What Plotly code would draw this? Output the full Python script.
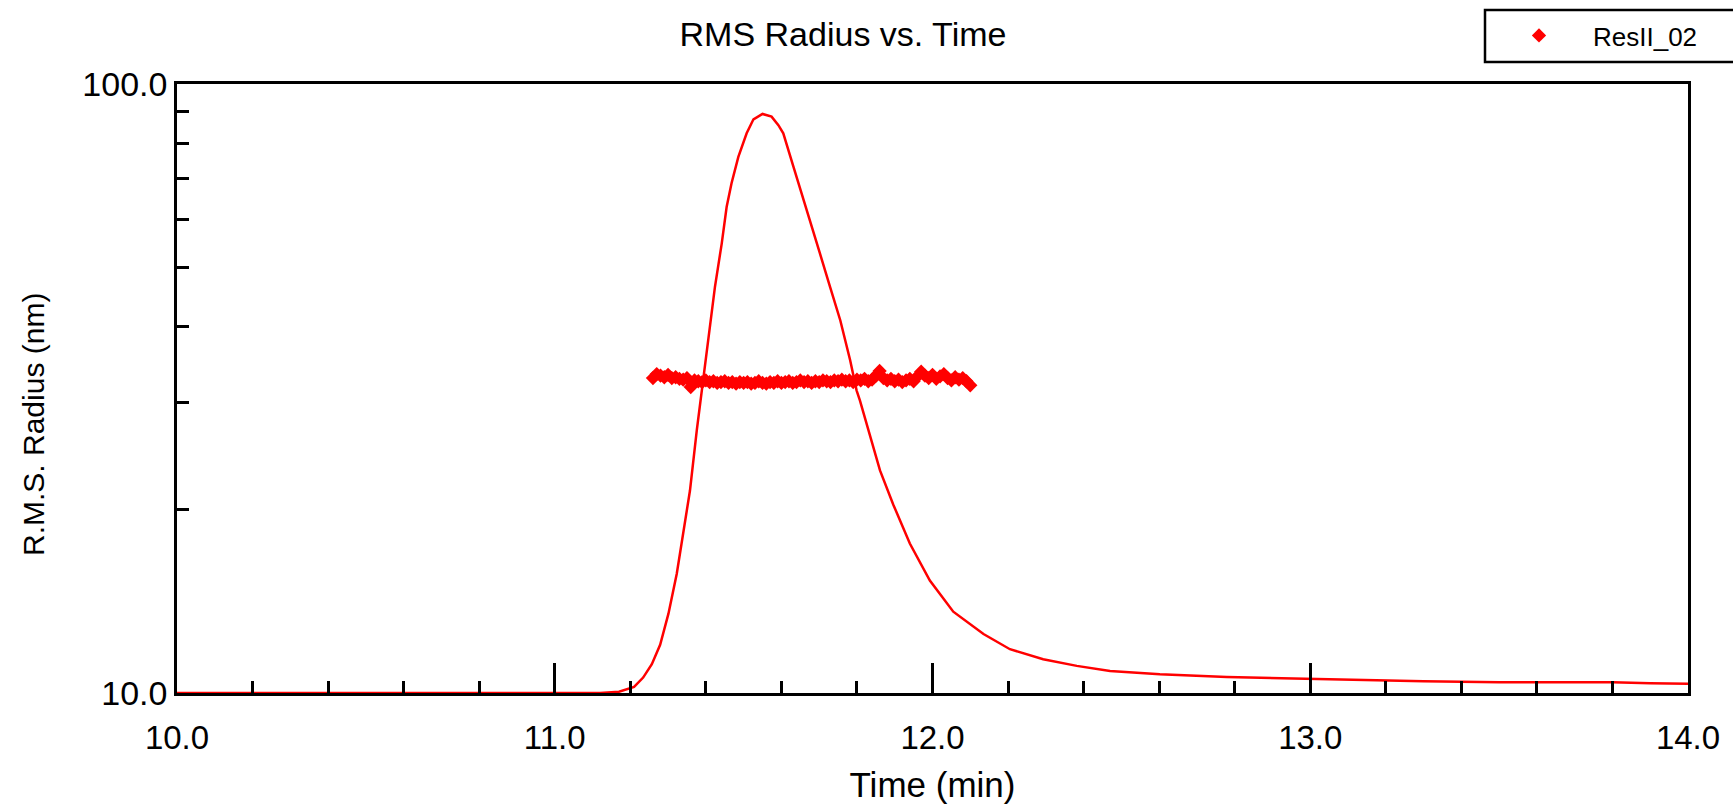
import plotly.graph_objects as go

# Elution trace (min, nm-scaled signal) drawn as a line on the radius axis
trace_time = [10.00, 10.50, 11.00, 11.12, 11.17, 11.21, 11.234, 11.257, 11.279, 11.301,
              11.323, 11.340, 11.358, 11.376, 11.390, 11.407, 11.424, 11.442, 11.455, 11.468,
              11.486, 11.508, 11.526, 11.550, 11.574, 11.592, 11.605, 11.632, 11.654, 11.676,
              11.702, 11.729, 11.756, 11.782, 11.799, 11.808, 11.835, 11.861, 11.896, 11.940,
              11.993, 12.055, 12.135, 12.205, 12.293, 12.382, 12.470, 12.602, 12.779, 12.955,
              13.130, 13.300, 13.500, 13.600, 13.700, 13.800, 13.900, 14.000]
trace_value = [10.00, 10.00, 10.00, 10.00, 10.05, 10.23, 10.60, 11.15, 12.00, 13.50,
               15.70, 18.20, 21.50, 27.00, 31.60, 37.90, 46.40, 54.70, 62.80, 68.70,
               75.90, 83.00, 87.50, 89.30, 88.40, 85.60, 83.00, 73.10, 66.10, 59.80,
               52.70, 46.40, 40.90, 35.20, 31.40, 30.20, 26.30, 23.20, 20.40, 17.60,
               15.30, 13.60, 12.50, 11.80, 11.36, 11.08, 10.87, 10.73, 10.62, 10.56,
               10.49, 10.45, 10.41, 10.41, 10.43, 10.41, 10.38, 10.36]

# RMS radius slices across the peak
rms_time = [11.26, 11.27, 11.28, 11.29, 11.30, 11.31, 11.32, 11.33, 11.34, 11.35,
            11.36, 11.37, 11.38, 11.39, 11.40, 11.41, 11.42, 11.43, 11.44, 11.45,
            11.46, 11.47, 11.48, 11.49, 11.50, 11.51, 11.52, 11.53, 11.54, 11.55,
            11.56, 11.57, 11.58, 11.59, 11.60, 11.61, 11.62, 11.63, 11.64, 11.65,
            11.66, 11.67, 11.68, 11.69, 11.70, 11.71, 11.72, 11.73, 11.74, 11.75,
            11.76, 11.77, 11.78, 11.79, 11.80, 11.81, 11.82, 11.83, 11.84, 11.85,
            11.86, 11.87, 11.88, 11.89, 11.90, 11.91, 11.92, 11.93, 11.94, 11.95,
            11.96, 11.97, 11.98, 11.99, 12.00, 12.01, 12.02, 12.03, 12.04, 12.05,
            12.06, 12.07, 12.08, 12.09, 12.10]
rms_radius = [32.9, 33.4, 33.2, 33.0, 33.3, 32.9, 33.0, 32.8, 32.7, 32.9,
              31.8, 32.6, 32.5, 32.4, 32.6, 32.4, 32.5, 32.3, 32.4, 32.5,
              32.3, 32.4, 32.2, 32.4, 32.3, 32.4, 32.2, 32.3, 32.5, 32.3,
              32.2, 32.4, 32.3, 32.5, 32.3, 32.4, 32.5, 32.3, 32.4, 32.6,
              32.4, 32.5, 32.3, 32.5, 32.4, 32.6, 32.5, 32.4, 32.6, 32.5,
              32.7, 32.5, 32.6, 32.4, 32.7, 32.6, 32.8, 32.5, 32.7, 33.2,
              33.8, 32.9, 32.6, 32.8, 32.5, 32.7, 32.4, 32.6, 32.8, 32.5,
              33.1, 33.7, 33.2, 32.9, 33.3, 32.8, 33.1, 33.4, 32.9, 32.6,
              33.0, 32.7, 32.9, 32.5, 32.0]

x_ticks = [10.0, 11.0, 12.0, 13.0, 14.0]
x_tick_text = ["10.0", "11.0", "12.0", "13.0", "14.0"]
y_ticks = [10, 100]
y_tick_text = ["10.0", "100.0"]
y_minor = [20, 30, 40, 50, 60, 70, 80, 90]

FONT = "Liberation Sans, Arial, sans-serif"
RED = "#ff0000"

fig = go.Figure()
fig.add_trace(go.Scatter(
    x=trace_time, y=trace_value, mode="lines",
    line=dict(color=RED, width=2.5), showlegend=False, hoverinfo="skip",
))
fig.add_trace(go.Scatter(
    x=rms_time, y=rms_radius, mode="markers", name="ResII_02",
    marker=dict(symbol="diamond", size=11, color=RED, line=dict(width=0)),
))

W, H = 1733, 804
L, R, T, B = 177, 45, 84, 111
pw = W - L - R
ph = H - T - B

fig.update_layout(
    width=W, height=H,
    margin=dict(l=L, r=R, t=T, b=B, autoexpand=False),
    paper_bgcolor="white", plot_bgcolor="white",
    font=dict(family=FONT, size=34, color="black"),
    title=dict(text="RMS Radius vs. Time", x=843 / W, xref="container", xanchor="center",
               y=1 - 34 / H, yref="container", yanchor="middle",
               font=dict(family=FONT, size=34, color="black")),
    showlegend=True,
    legend=dict(x=(1485 - L) / pw, xanchor="left", y=(H - B - 12) / ph, yanchor="top",
                itemwidth=98, borderwidth=0, bgcolor="rgba(0,0,0,0)",
                font=dict(family=FONT, size=26, color="black")),
    xaxis=dict(
        range=[10.0, 14.0], tickmode="array", tickvals=x_ticks, ticktext=x_tick_text,
        ticks="inside", ticklen=30, tickwidth=2.5, tickcolor="black",
        ticklabelstandoff=14, automargin=False,
        tickfont=dict(family=FONT, size=33),
        minor=dict(dtick=0.2, tick0=10.0, ticks="inside", ticklen=12, tickwidth=2.5,
                   tickcolor="black", showgrid=False),
        showline=True, linecolor="black", linewidth=2.5, mirror=True,
        showgrid=False, zeroline=False,
        title=dict(text="Time (min)", standoff=19, font=dict(family=FONT, size=35)),
    ),
    yaxis=dict(
        type="log", range=[1, 2], tickmode="array", tickvals=y_ticks, ticktext=y_tick_text,
        ticks="", ticklabelstandoff=0, automargin=False,
        tickfont=dict(family=FONT, size=34),
        minor=dict(tickmode="array", tickvals=y_minor, ticks="inside", ticklen=12,
                   tickwidth=2.5, tickcolor="black", showgrid=False),
        showline=True, linecolor="black", linewidth=2.5, mirror=True,
        showgrid=False, zeroline=False,
    ),
    annotations=[dict(
        text="R.M.S. Radius (nm)", textangle=-90, xref="paper", yref="paper",
        x=(33 - L) / pw, y=(H - B - 425) / ph, xanchor="center", yanchor="middle",
        showarrow=False, font=dict(family=FONT, size=30, color="black"),
    )],
    shapes=[dict(
        type="rect", xref="paper", yref="paper",
        x0=(1485 - L) / pw, x1=(1760 - L) / pw,
        y0=(H - B - 62) / ph, y1=(H - B - 10) / ph,
        line=dict(color="black", width=2.5), fillcolor="rgba(0,0,0,0)", layer="above",
    )],
)

fig.write_html("out.html")
